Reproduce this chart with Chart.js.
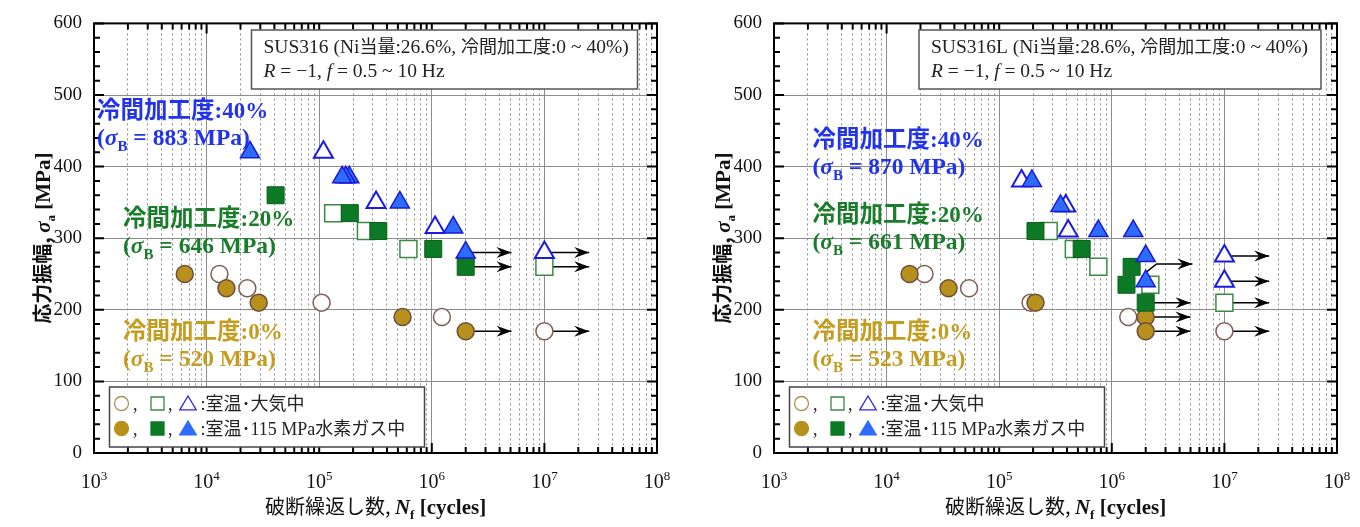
<!DOCTYPE html>
<html lang="ja">
<head>
<meta charset="utf-8">
<script src="https://cdn.jsdelivr.net/npm/chart.js@4.4.1/dist/chart.umd.min.js"></script>
<style>
  body { margin: 0; background: #fff; }
  .panel { position: absolute; top: 0; width: 680px; height: 527px; }
</style>
</head>
<body>
<div class="panel" style="left:0"><canvas id="sus316"></canvas></div>
<div class="panel" style="left:680px"><canvas id="sus316L"></canvas></div>
<script>
// [Nf (cycles), stress amplitude (MPa)]
// --- SUS316 ---
const s316_airCircle = [[1.3e4,250],[2.3e4,230],[1.05e5,210],[1.23e6,190],[1.0e7,170]];
const s316_h2Circle  = [[6.4e3,250],[1.5e4,230],[2.9e4,210],[5.5e5,190],[2.0e6,170]];
const s316_airSquare = [[1.33e5,335],[2.6e5,310],[6.2e5,285],[1.0e7,260]];
const s316_h2Square  = [[4.1e4,360],[1.87e5,335],[3.35e5,310],[1.03e6,285],[2.0e6,260]];
const s316_airTri    = [[1.09e5,420],[3.2e5,350],[1.07e6,315],[1.0e7,280]];
const s316_h2Tri     = [[2.43e4,420],[1.85e5,385],[1.72e5,385],[1.6e5,385],[5.2e5,350],[1.55e6,315],[2.0e6,280]];
const s316_runout = [
  [[2.0e6,280],[5.1e6,280]], [[2.0e6,260],[5.1e6,260]], [[2.0e6,170],[5.1e6,170]],
  [[1.0e7,280],[2.5e7,280]], [[1.0e7,260],[2.5e7,260]], [[1.0e7,170],[2.5e7,170]]
];

// --- SUS316L ---
const s316L_airCircle = [[2.17e4,250],[5.4e4,230],[1.9e5,210],[1.4e6,190],[1.0e7,170]];
const s316L_h2Circle  = [[1.6e4,250],[3.55e4,230],[2.1e5,210],[2.0e6,190],[2.0e6,170]];
const s316L_airSquare = [[2.75e5,310],[4.6e5,285],[7.6e5,260],[2.2e6,235],[1.0e7,210]];
const s316L_h2Square  = [[2.1e5,310],[5.4e5,285],[1.5e6,260],[1.35e6,235],[2.0e6,210]];
const s316L_airTri    = [[1.58e5,380],[3.9e5,345],[4.1e5,310],[1.0e7,275],[1.0e7,240]];
const s316L_h2Tri     = [[1.95e5,380],[3.5e5,345],[7.6e5,310],[1.55e6,310],[2.0e6,275],[2.0e6,240]];
const s316L_runout = [
  [[2.0e6,252],[2.5e6,264],[5.2e6,264]],
  [[2.0e6,210],[5.0e6,210]], [[2.0e6,190],[5.0e6,190]], [[2.0e6,170],[5.0e6,170]],
  [[1.0e7,275],[2.5e7,275]], [[1.0e7,240],[2.5e7,240]], [[1.0e7,210],[2.5e7,210]], [[1.0e7,170],[2.5e7,170]]
];

const decades = [3, 4, 5, 6, 7, 8];
const yMajor = [0, 100, 200, 300, 400, 500, 600];
const yMinorStep = 20;

const SERIF = '"Liberation Serif", serif';
const JP = '"Noto Sans CJK JP", sans-serif';
const BLUE_T = '#2233ee', GREEN_T = '#1a7d2a', GOLD_T = '#c59d1e';

// x tick values 1..9 x 10^n
const xTickVals = [];
decades.forEach(e => { for (let k = 1; k < 10; k++) { if (e < 8 || k === 1) xTickVals.push(k * Math.pow(10, e)); } });
const isDecade = v => Math.abs(Math.log10(v) - Math.round(Math.log10(v))) < 1e-9;

// draw text made of runs: [text, flags]  j=japanese b=bold i=italic _=sub ^=sup
function runs(ctx, parts, x, y, size, jsize, color, align) {
  const items = parts.map(([t, f = '']) => {
    const j = f.includes('j'), sub = f.includes('_'), sup = f.includes('^');
    let sz = j ? jsize : size;
    if (sub || sup) sz = Math.round(size * 0.64);
    const font = (f.includes('i') ? 'italic ' : '') + (f.includes('b') ? 'bold ' : '') + sz + 'px ' + (j ? JP : SERIF);
    ctx.font = font;
    return { t, font, w: ctx.measureText(t).width, dy: sub ? size * 0.26 : sup ? -size * 0.42 : 0 };
  });
  const total = items.reduce((s, it) => s + it.w, 0);
  let cx = align === 'center' ? x - total / 2 : x;
  ctx.fillStyle = color; ctx.textBaseline = 'alphabetic'; ctx.textAlign = 'left';
  items.forEach(it => { ctx.font = it.font; ctx.fillText(it.t, cx, y + it.dy); cx += it.w; });
  return total;
}

function shape(ctx, kind, x, y, r) {
  ctx.beginPath();
  if (kind === 'circle') ctx.arc(x, y, r, 0, Math.PI * 2);
  else if (kind === 'rect') ctx.rect(x - r, y - r, 2 * r, 2 * r);
  else { ctx.moveTo(x, y - r); ctx.lineTo(x + r * 1.1, y + r * 0.85); ctx.lineTo(x - r * 1.1, y + r * 0.85); ctx.closePath(); }
}

function ds(pts, style, radius, fill, stroke, bw, order) {
  return {
    data: pts.map(p => ({ x: p[0], y: p[1] })),
    pointStyle: style, pointRadius: radius, backgroundColor: fill, borderColor: stroke,
    borderWidth: bw, showLine: false, order: order
  };
}

function makeChart(id, sets, runout, notes) {
  const deco = {
    id: 'deco',
    beforeDatasetsDraw(chart) {
      const { ctx, scales: { x, y } } = chart;
      ctx.save();
      ctx.strokeStyle = '#000'; ctx.fillStyle = '#000'; ctx.lineWidth = 1.5;
      runout.forEach(line => {
        const p = line.map(q => [x.getPixelForValue(q[0]), y.getPixelForValue(q[1])]);
        ctx.beginPath();
        p.forEach((q, i) => i ? ctx.lineTo(q[0], q[1]) : ctx.moveTo(q[0], q[1]));
        ctx.stroke();
        const [x1, y1] = p[p.length - 1], [x0, y0] = p[p.length - 2];
        const a = Math.atan2(y1 - y0, x1 - x0);
        ctx.save(); ctx.translate(x1, y1); ctx.rotate(a);
        ctx.beginPath(); ctx.moveTo(0, 0); ctx.lineTo(-15, -5.5); ctx.lineTo(-10, 0); ctx.lineTo(-15, 5.5); ctx.closePath(); ctx.fill();
        ctx.restore();
      });
      ctx.restore();
    },
    afterDraw(chart) {
      const { ctx, chartArea: ca, scales: { x, y } } = chart;
      ctx.save();
      // inward ticks
      ctx.strokeStyle = '#000'; ctx.lineWidth = 2;
      xTickVals.forEach(v => {
        const px = x.getPixelForValue(v), L = isDecade(v) ? 10 : 6;
        ctx.beginPath();
        ctx.moveTo(px, ca.bottom); ctx.lineTo(px, ca.bottom - L);
        ctx.moveTo(px, ca.top); ctx.lineTo(px, ca.top + L);
        ctx.stroke();
      });
      for (let v = 0; v <= 600; v += yMinorStep) {
        const py = y.getPixelForValue(v), L = v % 100 === 0 ? 10 : 6;
        ctx.beginPath();
        ctx.moveTo(ca.left, py); ctx.lineTo(ca.left + L, py);
        ctx.moveTo(ca.right, py); ctx.lineTo(ca.right - L, py);
        ctx.stroke();
      }
      ctx.lineWidth = 2;
      ctx.strokeRect(ca.left, ca.top, ca.right - ca.left, ca.bottom - ca.top);

      // x tick labels 10^n
      decades.forEach(e => {
        const px = x.getPixelForValue(Math.pow(10, e));
        runs(ctx, [['10'], [String(e), '^']], px, 488, 20, 20, '#111', 'center');
      });
      // axis titles
      runs(ctx, [['破断繰返し数, ', 'j'], ['N', 'bi'], ['f', 'b_'], [' [cycles]', 'b']],
        (ca.left + ca.right) / 2, 514, 21, 20, '#111', 'center');
      ctx.save();
      ctx.translate(ca.left - 51, (ca.top + ca.bottom) / 2);
      ctx.rotate(-Math.PI / 2);
      runs(ctx, [['応力振幅, ', 'jb'], ['σ', 'bi'], ['a', 'b_'], [' [MPa]', 'b']], 0, 7, 21, 20, '#111', 'center');
      ctx.restore();

      // condition box
      const b = notes.box;
      ctx.fillStyle = '#fff'; ctx.fillRect(b.x, 30, b.w, 59);
      ctx.strokeStyle = '#555'; ctx.lineWidth = 1.5; ctx.strokeRect(b.x, 30, b.w, 59);
      runs(ctx, [[notes.steel + ' (Ni'], ['当量', 'j'], [':' + notes.niEq + ', '], ['冷間加工度', 'j'], [':0 ~ 40%)']],
        b.x + 12, 53, 19.5, 18, '#222', 'left');
      runs(ctx, [['R', 'i'], [' = −1, '], ['f', 'i'], [' = 0.5 ~ 10 Hz']], b.x + 12, 77, 19.5, 18, '#222', 'left');

      // cold-work labels
      notes.labels.forEach(l => {
        runs(ctx, [['冷間加工度', 'jb'], [':' + l.cw, 'b']], l.x, l.y, 23, 23.5, l.c, 'left');
        runs(ctx, [['(', 'b'], ['σ', 'bi'], ['B', 'b_'], [' = ' + l.sb + ' MPa)', 'b']], l.x, l.y + 27, 23.5, 23, l.c, 'left');
      });

      // legend
      const ox = ca.left;
      ctx.fillStyle = '#fff'; ctx.fillRect(ox + 15.5, 387, 315, 60);
      ctx.strokeStyle = '#444'; ctx.lineWidth = 1.5; ctx.strokeRect(ox + 15.5, 387, 315, 60);
      const rowsY = [403.5, 428.5];
      rowsY.forEach((ry, r) => {
        const filled = r === 1;
        ctx.lineWidth = 1.3;
        ctx.fillStyle = filled ? '#b8901c' : '#fff'; ctx.strokeStyle = filled ? '#b8901c' : '#a89050';
        shape(ctx, 'circle', ox + 27.5, ry, 7); ctx.fill(); ctx.stroke();
        ctx.fillStyle = filled ? '#0c7a24' : '#fff'; ctx.strokeStyle = filled ? '#0c7a24' : '#3a8a44';
        shape(ctx, 'rect', ox + 63.5, ry, 6.5); ctx.fill(); ctx.stroke();
        ctx.fillStyle = filled ? '#2d6cff' : '#fff'; ctx.strokeStyle = filled ? '#2d6cff' : '#2a2ae0';
        shape(ctx, 'tri', ox + 94, ry, 7.5); ctx.fill(); ctx.stroke();
        runs(ctx, [[',']], ox + 39, ry + 6, 18, 18, '#222', 'left');
        runs(ctx, [[',']], ox + 74, ry + 6, 18, 18, '#222', 'left');
        const txt = filled ? [[' :'], ['室温･', 'j'], ['115 MPa'], ['水素ガス中', 'j']] : [[' :'], ['室温･大気中', 'j']];
        runs(ctx, txt, ox + 102, ry + 6.5, 18, 18, '#222', 'left');
      });
      ctx.restore();
    }
  };

  return new Chart(document.getElementById(id), {
    type: 'scatter',
    data: {
      datasets: [
        ds(sets.h2Tri, 'triangle', 11, '#2d6cff', '#1a1ad8', 1.5, 1),
        ds(sets.h2Square, 'rect', 12, '#0c7a24', '#0a5e1c', 1, 2),
        ds(sets.h2Circle, 'circle', 8.5, '#b8901c', '#6e4e3e', 1.5, 3),
        ds(sets.airTri, 'triangle', 11, '#fff', '#1a1ae6', 2, 4),
        ds(sets.airSquare, 'rect', 12, '#fff', '#3a8a44', 1.5, 5),
        ds(sets.airCircle, 'circle', 8.5, '#fff', '#7d5f55', 1.5, 6)
      ]
    },
    options: {
      responsive: true, maintainAspectRatio: false, animation: false, events: [],
      layout: { padding: { top: 20, right: 23, left: 0, bottom: 0 } },
      plugins: { legend: { display: false }, tooltip: { enabled: false } },
      scales: {
        x: {
          type: 'logarithmic', min: 1e3, max: 1e8,
          afterBuildTicks: s => { s.ticks = xTickVals.map(v => ({ value: v })); },
          afterFit: s => { s.height = 74; },
          ticks: { display: false },
          grid: { drawTicks: false, color: '#8c8c8c', lineWidth: 1 },
          border: { display: false, dash: c => (c.tick && !isDecade(c.tick.value)) ? [2, 3] : [] }
        },
        y: {
          min: 0, max: 600,
          afterBuildTicks: s => { s.ticks = yMajor.map(v => ({ value: v })); },
          afterFit: s => { s.width = 94; },
          ticks: { padding: 12, color: '#111', font: { family: 'Liberation Serif', size: 19 } },
          grid: { drawTicks: false, color: '#8c8c8c', lineWidth: 1 },
          border: { display: false }
        }
      }
    },
    plugins: [deco]
  });
}

makeChart('sus316',
  { airCircle: s316_airCircle, h2Circle: s316_h2Circle, airSquare: s316_airSquare, h2Square: s316_h2Square, airTri: s316_airTri, h2Tri: s316_h2Tri },
  s316_runout,
  {
    steel: 'SUS316', niEq: '26.6%', box: { x: 251.5, w: 386 },
    labels: [
      { cw: '40%', sb: '883', x: 97, y: 118, c: BLUE_T },
      { cw: '20%', sb: '646', x: 123, y: 226, c: GREEN_T },
      { cw: '0%', sb: '520', x: 123, y: 339, c: GOLD_T }
    ]
  });

makeChart('sus316L',
  { airCircle: s316L_airCircle, h2Circle: s316L_h2Circle, airSquare: s316L_airSquare, h2Square: s316L_h2Square, airTri: s316L_airTri, h2Tri: s316L_h2Tri },
  s316L_runout,
  {
    steel: 'SUS316L', niEq: '28.6%', box: { x: 239, w: 402 },
    labels: [
      { cw: '40%', sb: '870', x: 132.5, y: 147, c: BLUE_T },
      { cw: '20%', sb: '661', x: 132.5, y: 222, c: GREEN_T },
      { cw: '0%', sb: '523', x: 132.5, y: 339, c: GOLD_T }
    ]
  });
</script>
</body>
</html>
